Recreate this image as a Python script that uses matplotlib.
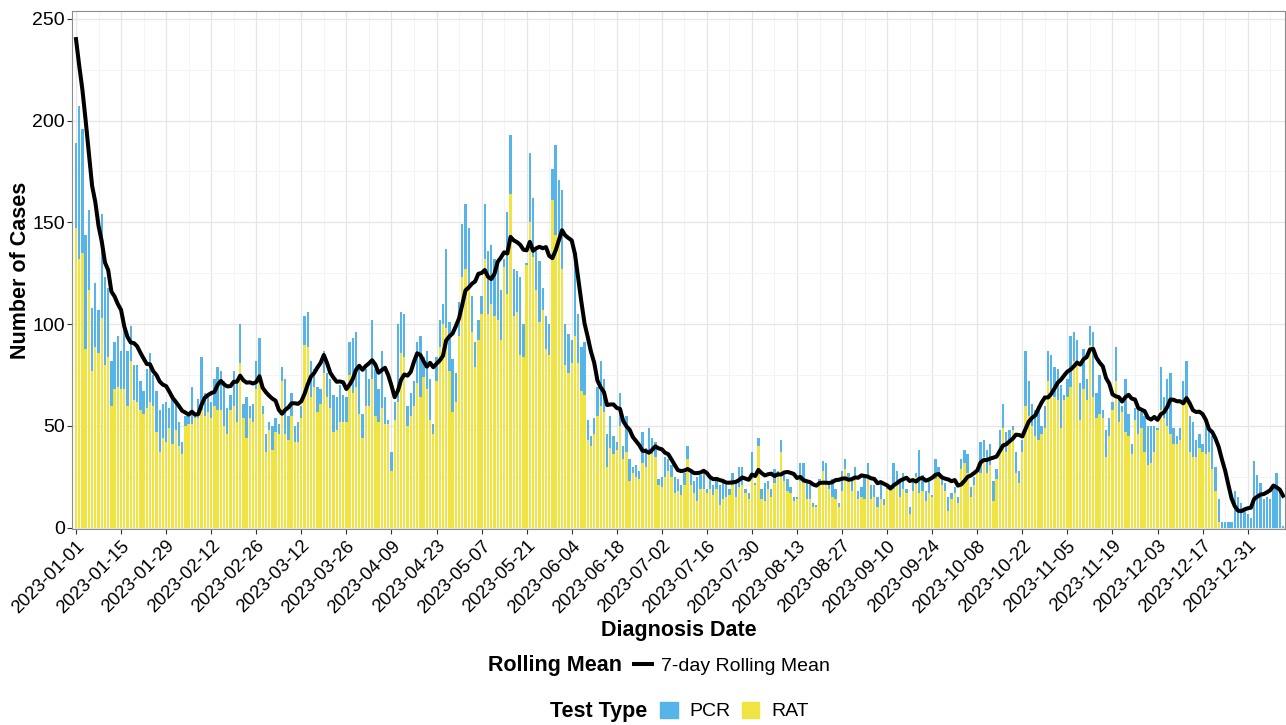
import numpy as np
import pandas as pd
import matplotlib
matplotlib.use('Agg')
import matplotlib.pyplot as plt
import matplotlib.dates as mdates
from matplotlib.lines import Line2D
from matplotlib.patches import Patch

plt.rcParams['font.family'] = ['Liberation Sans', 'DejaVu Sans']

start_date = '2023-01-01'

# daily totals (PCR + RAT)
total_cases = [
    189, 207, 196, 144, 156, 108, 120, 107, 154, 123,
    118, 82, 91, 94, 87, 97, 87, 99, 80, 80,
    72, 67, 78, 86, 75, 67, 58, 61, 62, 59,
    65, 61, 52, 42, 55, 55, 69, 55, 63, 84,
    66, 64, 62, 73, 79, 77, 72, 59, 65, 77,
    73, 100, 61, 64, 60, 61, 82, 93, 60, 46,
    52, 50, 54, 51, 79, 73, 55, 66, 50, 52,
    60, 104, 106, 82, 78, 69, 68, 87, 76, 73,
    65, 64, 70, 65, 64, 91, 93, 96, 78, 56,
    78, 73, 102, 78, 68, 87, 64, 53, 37, 62,
    100, 106, 105, 60, 66, 72, 91, 94, 84, 87,
    73, 51, 84, 102, 110, 137, 101, 83, 76, 111,
    149, 159, 147, 114, 91, 102, 114, 159, 136, 139,
    132, 132, 117, 132, 155, 193, 127, 126, 123, 100,
    130, 184, 162, 136, 131, 118, 104, 100, 176, 188,
    171, 166, 100, 95, 92, 130, 105, 89, 91, 53,
    45, 54, 69, 82, 73, 46, 55, 45, 42, 66,
    40, 55, 34, 30, 31, 28, 47, 39, 49, 44,
    42, 24, 25, 35, 34, 31, 25, 24, 21, 27,
    40, 28, 23, 25, 26, 27, 19, 26, 21, 24,
    21, 23, 21, 19, 27, 23, 30, 30, 19, 17,
    37, 22, 44, 19, 22, 23, 19, 29, 28, 43,
    26, 24, 20, 15, 15, 32, 32, 22, 21, 12,
    11, 24, 33, 32, 21, 24, 19, 12, 28, 34,
    27, 23, 30, 18, 20, 26, 32, 21, 21, 15,
    22, 14, 21, 21, 32, 28, 24, 27, 19, 10,
    24, 27, 38, 26, 18, 23, 16, 34, 30, 26,
    22, 15, 17, 20, 15, 34, 38, 36, 20, 25,
    29, 42, 43, 38, 41, 23, 29, 48, 61, 47,
    48, 50, 37, 28, 43, 87, 72, 61, 58, 60,
    50, 60, 87, 85, 79, 78, 70, 65, 73, 94,
    96, 92, 71, 88, 73, 99, 96, 66, 75, 58,
    48, 54, 62, 89, 63, 60, 73, 56, 41, 59,
    60, 57, 55, 50, 50, 50, 49, 79, 64, 73,
    76, 49, 45, 49, 72, 82, 55, 52, 43, 46,
    41, 52, 50, 45, 30, 14, 3, 3, 3, 3,
    18, 15, 12, 9, 7, 5, 33, 26, 22, 14,
    15, 14, 21, 27, 18, 1,
]

# RAT part of each day (bottom, yellow)
rat_cases = [
    147, 132, 135, 88, 117, 77, 89, 86, 103, 80,
    84, 60, 68, 69, 68, 68, 60, 82, 63, 62,
    58, 56, 59, 62, 60, 47, 37, 44, 42, 49,
    41, 48, 40, 36, 50, 51, 51, 54, 54, 58,
    55, 57, 54, 60, 58, 58, 50, 46, 58, 60,
    52, 81, 54, 44, 54, 52, 68, 73, 56, 37,
    48, 38, 47, 46, 72, 46, 43, 55, 42, 42,
    54, 90, 89, 64, 69, 57, 61, 76, 64, 59,
    47, 48, 52, 52, 52, 75, 66, 69, 56, 44,
    60, 60, 73, 55, 52, 59, 51, 51, 28, 53,
    62, 86, 84, 50, 55, 60, 71, 64, 74, 68,
    53, 46, 72, 89, 100, 98, 77, 57, 62, 94,
    123, 127, 119, 96, 79, 92, 105, 132, 105, 110,
    104, 102, 92, 128, 115, 164, 104, 106, 85, 84,
    129, 150, 133, 117, 101, 107, 88, 85, 161, 144,
    142, 127, 80, 76, 81, 94, 81, 67, 65, 43,
    40, 46, 55, 60, 57, 30, 39, 36, 38, 50,
    34, 37, 23, 27, 25, 24, 32, 30, 36, 36,
    35, 21, 20, 25, 28, 25, 17, 18, 16, 21,
    34, 21, 17, 13, 19, 19, 17, 19, 16, 19,
    11, 14, 15, 16, 21, 15, 20, 21, 17, 14,
    24, 21, 40, 14, 13, 19, 15, 22, 25, 37,
    23, 18, 17, 13, 14, 23, 22, 14, 14, 10,
    10, 22, 28, 23, 19, 15, 14, 10, 18, 29,
    23, 18, 24, 14, 15, 14, 24, 14, 15, 10,
    14, 11, 19, 20, 19, 23, 15, 19, 17, 7,
    18, 25, 17, 18, 13, 17, 15, 24, 27, 21,
    18, 8, 14, 17, 12, 29, 32, 27, 15, 21,
    27, 27, 35, 27, 31, 13, 24, 36, 49, 37,
    42, 48, 27, 22, 37, 60, 55, 50, 45, 43,
    46, 49, 72, 64, 64, 63, 49, 63, 64, 69,
    82, 80, 53, 68, 63, 90, 64, 54, 56, 54,
    35, 45, 58, 72, 52, 57, 47, 45, 36, 53,
    46, 49, 37, 31, 32, 37, 48, 58, 54, 50,
    46, 41, 41, 43, 63, 64, 37, 35, 35, 39,
    37, 36, 37, 29, 18, 3, 0, 0, 0, 0,
    0, 0, 0, 0, 0, 0, 0, 0, 0, 0,
    0, 0, 0, 0, 0, 0,
]

# 7-day mean for Jan 1-6 (window reaches back into Dec 2022)
rolling_start = [240, 227, 215, 200, 184, 168]

dates = pd.date_range(start_date, periods=len(total_cases), freq='D')
total = np.array(total_cases)
rat = np.array(rat_cases)
pcr = total - rat
rolling = pd.Series(total, index=dates, dtype=float).rolling(7).mean()
rolling.iloc[:6] = rolling_start

pcr_color = '#56B4E9'
rat_color = '#F0E442'

fig = plt.figure(figsize=(12.86, 7.25), dpi=100)
ax = fig.add_axes([72/1286, 1 - 529/725, (1285 - 72)/1286, (529 - 11)/725])

ax.bar(dates, rat, width=0.72, color=rat_color, linewidth=0, zorder=2)
ax.bar(dates, pcr, bottom=rat, width=0.72, color=pcr_color, linewidth=0, zorder=2)
ax.plot(dates, rolling, color='black', lw=2.9, zorder=3, solid_joinstyle='round')

x0 = mdates.date2num(dates[0])
ax.set_xlim(x0 - 1.24, x0 + 375.6)
ax.set_ylim(-0.6, 253.8)

major = pd.date_range('2023-01-01', '2023-12-31', freq='14D')
minor = pd.date_range('2023-01-08', '2024-01-07', freq='14D')
ax.set_xticks(major)
ax.set_xticks(minor, minor=True)
ax.set_xticklabels([d.strftime('%Y-%m-%d') for d in major], rotation=45,
                   ha='right', rotation_mode='anchor', fontsize=13.3)
ax.set_yticks(np.arange(0, 251, 50))
ax.set_yticks(np.arange(25, 251, 50), minor=True)
ax.tick_params(axis='y', labelsize=14, pad=1.5)
ax.tick_params(axis='x', pad=2.5)
ax.tick_params(which='major', length=3.5, width=0.8, color='#333333', labelcolor='black')
ax.tick_params(which='minor', length=0)

ax.grid(which='major', color='#E6E6E6', lw=0.9, zorder=0)
ax.grid(which='minor', color='#F3F3F3', lw=0.6, zorder=0)
ax.set_axisbelow(True)
for sp in ax.spines.values():
    sp.set_color('#8C8C8C')
    sp.set_linewidth(0.8)

ax.set_xlabel('Diagnosis Date', fontsize=15.5, fontweight='bold')
ax.xaxis.set_label_coords(0.5, -0.176)
ax.set_ylabel('Number of Cases', fontsize=15.5, fontweight='bold')
ax.yaxis.set_label_coords(-0.0335, 0.5)

# legends
fig.text(622/1286, 1 - 666/725, 'Rolling Mean', ha='right', va='center',
         fontsize=15.5, fontweight='bold')
fig.legend(handles=[Line2D([], [], color='black', lw=2.9)], labels=['7-day Rolling Mean'],
           loc='center left', bbox_to_anchor=(634/1286, 1 - 666/725), frameon=False,
           fontsize=14, handlelength=0.9, handletextpad=0.5, borderpad=0, borderaxespad=0)

fig.text(647/1286, 1 - 711/725, 'Test Type', ha='right', va='center',
         fontsize=15.5, fontweight='bold')
fig.legend(handles=[Patch(color=pcr_color), Patch(color=rat_color)], labels=['PCR', 'RAT'],
           ncol=2, loc='center left', bbox_to_anchor=(660/1286, 1 - 711/725), frameon=False,
           fontsize=14, handlelength=0.9, handleheight=0.9, handletextpad=0.6,
           columnspacing=0.6, borderpad=0, borderaxespad=0)

fig.savefig('out.png', dpi=100)
